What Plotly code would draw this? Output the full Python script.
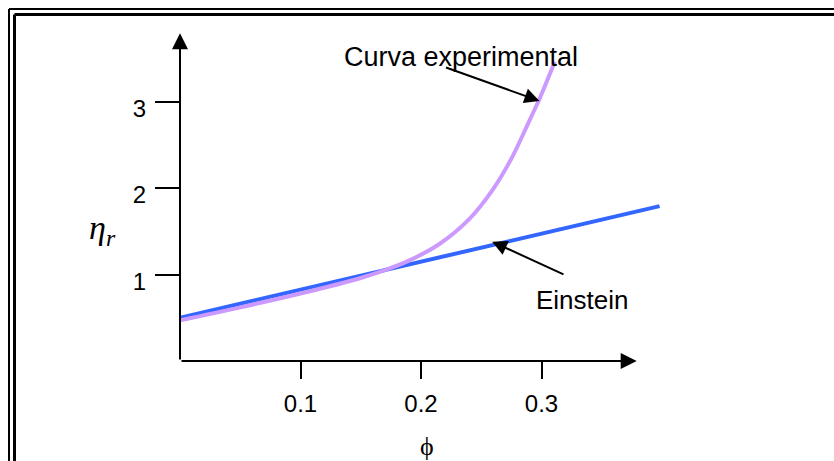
import plotly.graph_objects as go

# ---- data ----
phi_einstein = [0.0, 0.398]
eta_einstein = [0.50, 1.79]

phi_exp = [0.0, 0.05, 0.10, 0.15, 0.17, 0.19, 0.215, 0.24, 0.259, 0.275, 0.29, 0.298, 0.311]
eta_exp = [0.47, 0.62, 0.78, 0.96, 1.05, 1.16, 1.35, 1.64, 1.97, 2.34, 2.78, 3.02, 3.46]

x_ticks = [0.1, 0.2, 0.3]
x_tick_labels = ["0.1", "0.2", "0.3"]
y_ticks = [1, 2, 3]
y_tick_labels = ["1", "2", "3"]

x_axis_end = 0.379
y_axis_end = 3.79

# ---- layout geometry (body margin removed by post_script) ----
W, H = 834, 461
ML, MR, MT, MB = 180, 172, 15, 100
PW, PH = W - ML - MR, H - MT - MB


def px(xp):
    return (xp - ML) / PW


def py(yp):
    return (H - MB - yp) / PH


FONT = "Liberation Sans, Arial, sans-serif"
SERIF = "Liberation Serif, Times New Roman, DejaVu Serif, serif"

fig = go.Figure()
fig.add_trace(go.Scatter(x=phi_einstein, y=eta_einstein, mode="lines",
                         line=dict(color="#3366ff", width=4), hoverinfo="skip"))
fig.add_trace(go.Scatter(x=phi_exp, y=eta_exp, mode="lines",
                         line=dict(color="#cc99ff", width=4, shape="spline", smoothing=1.0),
                         hoverinfo="skip"))

arrow_common = dict(xref="x", yref="y", axref="x", ayref="y", text="", showarrow=True,
                    arrowhead=2, arrowwidth=2, arrowcolor="black")
ann = []
# axis arrows
ann.append(dict(x=x_axis_end, y=0, ax=0, ay=0, arrowsize=1.6, **arrow_common))
ann.append(dict(x=0, y=y_axis_end, ax=0, ay=0, arrowsize=1.6, **arrow_common))
# label annotations
ann.append(dict(x=0.2336, y=3.51, xref="x", yref="y", text="Curva experimental",
                showarrow=False, font=dict(family=FONT, size=27, color="black")))
ann.append(dict(x=0.2983, y=3.006, ax=0.2195, ay=3.40, arrowsize=1.5, **arrow_common))
ann.append(dict(x=0.334, y=0.70, xref="x", yref="y", text="Einstein",
                showarrow=False, font=dict(family=FONT, size=26, color="black")))
ann.append(dict(x=0.259, y=1.38, ax=0.3195, ay=0.994, arrowsize=1.5, **arrow_common))
# axis titles
ann.append(dict(x=px(87), y=py(230), xref="paper", yref="paper",
                text="<i>η<sub>r</sub></i>", showarrow=False,
                font=dict(family=SERIF, size=34, color="black")))
ann.append(dict(x=px(427), y=py(463), xref="paper", yref="paper",
                text="ϕ", showarrow=False,
                font=dict(family=SERIF, size=26, color="black")))

# double border (top and left visible)
shapes = [
    dict(type="line", xref="paper", yref="paper", x0=px(9), x1=px(840), y0=py(9), y1=py(9),
         line=dict(color="black", width=2)),
    dict(type="line", xref="paper", yref="paper", x0=px(9), x1=px(9), y0=py(9), y1=py(470),
         line=dict(color="black", width=2)),
    dict(type="line", xref="paper", yref="paper", x0=px(14.5), x1=px(840), y0=py(14.5), y1=py(14.5),
         line=dict(color="black", width=3)),
    dict(type="line", xref="paper", yref="paper", x0=px(14.5), x1=px(14.5), y0=py(14.5), y1=py(470),
         line=dict(color="black", width=3)),
]

fig.update_layout(
    width=W, height=H,
    margin=dict(l=ML, r=MR, t=MT, b=MB, pad=0),
    paper_bgcolor="white", plot_bgcolor="white",
    showlegend=False,
    annotations=ann, shapes=shapes,
    font=dict(family=FONT, size=24, color="black"),
    xaxis=dict(range=[0, 0.4], showgrid=False, zeroline=False, showline=False,
               tickmode="array", tickvals=x_ticks, ticktext=x_tick_labels,
               tickfont=dict(family=FONT, size=24, color="black"),
               ticks="outside", ticklen=17, tickwidth=2, tickcolor="black",
               ticklabelstandoff=4),
    yaxis=dict(range=[0, 4], showgrid=False, zeroline=False, showline=False,
               tickmode="array", tickvals=y_ticks, ticktext=y_tick_labels,
               tickfont=dict(family=FONT, size=24, color="black"),
               ticks="outside", ticklen=24, tickwidth=2, tickcolor="black",
               ticklabelshift=7, ticklabelstandoff=4),
)

fig.write_html(
    "out.html",
    config={"displayModeBar": False},
    post_script="document.body.style.margin='0';document.body.style.overflow='hidden';",
)
